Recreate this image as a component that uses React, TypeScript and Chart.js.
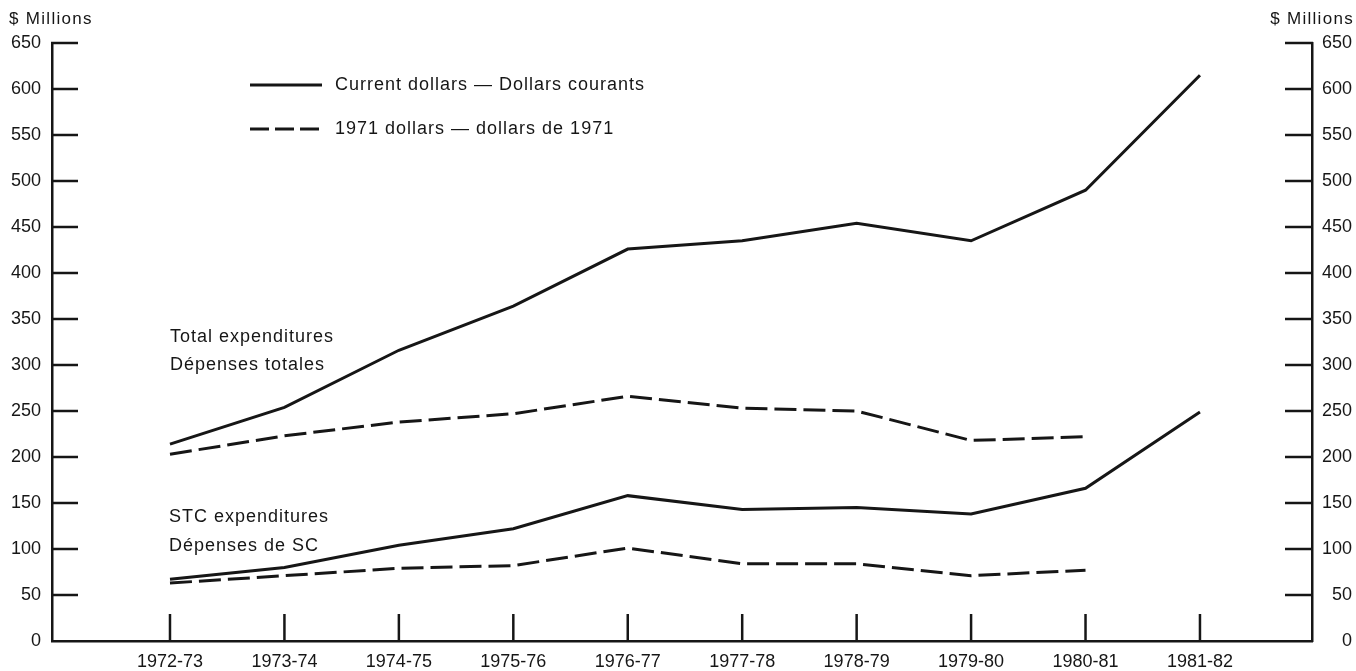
import React, { useEffect, useRef } from "react";
import { Chart, registerables } from "chart.js";

Chart.register(...registerables);

const categories = [
  "1972-73", "1973-74", "1974-75", "1975-76", "1976-77",
  "1977-78", "1978-79", "1979-80", "1980-81", "1981-82",
];
const totalCurrent = [214, 254, 316, 364, 426, 435, 454, 435, 490, 615];
const total1971 = [203, 223, 238, 247, 266, 253, 250, 218, 222];
const stcCurrent = [67, 80, 104, 122, 158, 143, 145, 138, 166, 249];
const stc1971 = [63, 71, 79, 82, 101, 84, 84, 71, 77];
const yTicks = [0, 50, 100, 150, 200, 250, 300, 350, 400, 450, 500, 550, 600, 650];
const legendLabels = ["Current dollars — Dollars courants", "1971 dollars — dollars de 1971"];
const totalLabel = ["Total expenditures", "Dépenses totales"];
const stcLabel = ["STC expenditures", "Dépenses de SC"];
const axisTitle = "$ Millions";

const INK = "#161616";
const FONT = '"Liberation Sans", Arial, Helvetica, sans-serif';
const DASH = [22, 7];

const toPoints = (arr: number[]) => arr.map((v, i) => ({ x: i, y: v }));

const decorPlugin = {
  id: "decor",
  afterDraw(chart: any) {
    const ctx = chart.ctx as CanvasRenderingContext2D;
    const ys = chart.scales.y;
    const xs = chart.scales.x;
    const { left, right, bottom } = chart.chartArea;
    ctx.save();
    ctx.strokeStyle = INK;
    ctx.lineWidth = 2.5;
    ctx.lineCap = "butt";
    yTicks.forEach((v) => {
      if (v === 0) return;
      const py = ys.getPixelForValue(v);
      ctx.beginPath();
      ctx.moveTo(left - 1, py);
      ctx.lineTo(left + 26, py);
      ctx.stroke();
      ctx.beginPath();
      ctx.moveTo(right + 1, py);
      ctx.lineTo(right - 27, py);
      ctx.stroke();
    });
    categories.forEach((_, i) => {
      const px = xs.getPixelForValue(i);
      ctx.beginPath();
      ctx.moveTo(px, bottom);
      ctx.lineTo(px, bottom - 27);
      ctx.stroke();
    });

    // legend
    ctx.lineWidth = 3;
    ctx.beginPath();
    ctx.moveTo(250, 85);
    ctx.lineTo(322, 85);
    ctx.stroke();
    ctx.setLineDash([19, 6]);
    ctx.beginPath();
    ctx.moveTo(250, 129);
    ctx.lineTo(322, 129);
    ctx.stroke();
    ctx.setLineDash([]);

    ctx.fillStyle = INK;
    ctx.textBaseline = "middle";
    (ctx as any).letterSpacing = "1px";
    ctx.font = `18px ${FONT}`;
    ctx.textAlign = "left";
    ctx.fillText(legendLabels[0], 335, 85);
    ctx.fillText(legendLabels[1], 335, 129);
    ctx.fillText(totalLabel[0], 170, 337);
    ctx.fillText(totalLabel[1], 170, 365);
    ctx.fillText(stcLabel[0], 169, 517);
    ctx.fillText(stcLabel[1], 169, 546);

    (ctx as any).letterSpacing = "1.3px";
    ctx.font = `17px ${FONT}`;
    ctx.fillText(axisTitle, 9, 19);
    ctx.textAlign = "right";
    ctx.fillText(axisTitle, 1354, 19);
    ctx.restore();
  },
};

export default function App() {
  const ref = useRef<HTMLCanvasElement | null>(null);

  useEffect(() => {
    if (!ref.current) return;
    const lineBase = {
      borderColor: INK,
      borderWidth: 3,
      pointRadius: 0,
      tension: 0,
      fill: false,
    };
    const chart = new Chart(ref.current, {
      type: "line",
      data: {
        datasets: [
          { ...lineBase, label: "Total current", data: toPoints(totalCurrent) },
          { ...lineBase, label: "Total 1971", data: toPoints(total1971), borderDash: DASH },
          { ...lineBase, label: "STC current", data: toPoints(stcCurrent) },
          { ...lineBase, label: "STC 1971", data: toPoints(stc1971), borderDash: DASH },
        ],
      },
      options: {
        responsive: false,
        animation: false,
        devicePixelRatio: 1,
        layout: { padding: { top: 43, right: 4, left: 0, bottom: 0 } },
        plugins: {
          legend: { display: false },
          tooltip: { enabled: false },
          title: { display: false },
        },
        scales: {
          x: {
            type: "linear",
            min: -1.031,
            max: 9.979,
            grid: { display: false, drawTicks: false },
            border: { display: true, color: INK, width: 2.5 },
            afterBuildTicks: (scale: any) => {
              scale.ticks = categories.map((_, i) => ({ value: i }));
            },
            afterFit: (scale: any) => {
              scale.height = 30;
            },
            ticks: {
              autoSkip: false,
              maxRotation: 0,
              minRotation: 0,
              padding: 10,
              color: INK,
              font: { family: FONT, size: 18 },
              callback: (v: any) => categories[v as number] ?? "",
            },
          },
          y: {
            type: "linear",
            position: "left",
            min: 0,
            max: 650,
            grid: { display: false, drawTicks: false },
            border: { display: true, color: INK, width: 2.5 },
            afterBuildTicks: (scale: any) => {
              scale.ticks = yTicks.map((v) => ({ value: v }));
            },
            afterFit: (scale: any) => {
              scale.width = 52;
            },
            ticks: {
              padding: 11,
              color: INK,
              font: { family: FONT, size: 18 },
            },
          },
          y2: {
            type: "linear",
            position: "right",
            min: 0,
            max: 650,
            grid: { display: false, drawTicks: false },
            border: { display: true, color: INK, width: 2.5 },
            afterBuildTicks: (scale: any) => {
              scale.ticks = yTicks.map((v) => ({ value: v }));
            },
            afterFit: (scale: any) => {
              scale.width = 40;
            },
            ticks: {
              padding: 8,
              crossAlign: "far",
              color: INK,
              font: { family: FONT, size: 18 },
            },
          },
        },
      },
      plugins: [decorPlugin],
    } as any);
    return () => chart.destroy();
  }, []);

  return (
    <div style={{ position: "fixed", left: 0, top: 0, width: 1356, height: 671, background: "#ffffff" }}>
      <canvas ref={ref} width={1356} height={671} style={{ display: "block", width: 1356, height: 671 }} />
    </div>
  );
}
